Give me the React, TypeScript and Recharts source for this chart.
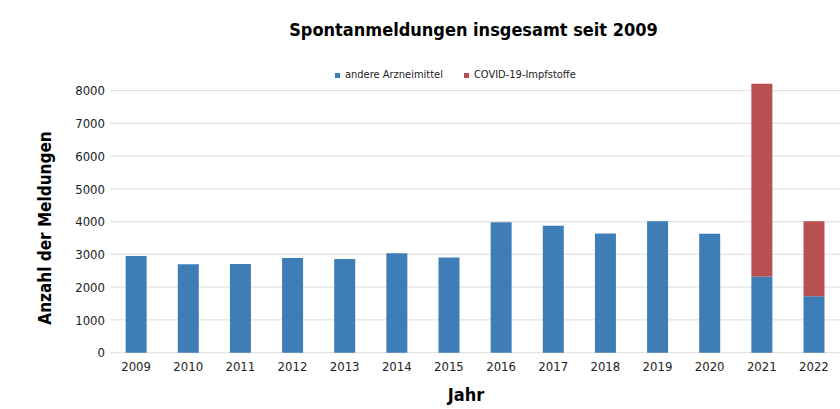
import { BarChart, Bar, XAxis, YAxis, CartesianGrid } from 'recharts';

const years = ['2009', '2010', '2011', '2012', '2013', '2014', '2015', '2016', '2017', '2018', '2019', '2020', '2021', '2022'];
const andereArzneimittel = [2950, 2700, 2710, 2890, 2860, 3040, 2910, 3980, 3880, 3640, 4010, 3630, 2330, 1720];
const covidImpfstoffe = [0, 0, 0, 0, 0, 0, 0, 0, 0, 0, 0, 0, 5880, 2290];
const yTicks = [0, 1000, 2000, 3000, 4000, 5000, 6000, 7000, 8000];
const Y_MAX = 8400;

const BLUE = '#3F7DB7';
const RED = '#B85052';
const FONT = "'Liberation Sans Narrow', 'DejaVu Sans Condensed', 'Noto Sans', sans-serif";

const chartData = years.map((y, i) => ({
  year: y,
  andere: andereArzneimittel[i],
  covid: covidImpfstoffe[i],
}));

function YLabel() {
  return (
    <text
      x={45}
      y={228}
      transform="rotate(-90 45 228)"
      textAnchor="middle"
      dominantBaseline="central"
      fontFamily={FONT}
      fontWeight="bold"
      fontSize={17}
      fill="#000"
    >
      Anzahl der Meldungen
    </text>
  );
}

// grid lines only at the labelled ticks, not at the top edge of the plot
const gridRows = ({ offset }: any) =>
  yTicks.map((t) => offset.top + offset.height * (1 - t / Y_MAX));

export default function App() {
  return (
    <div style={{ position: 'absolute', top: 0, left: 0, width: 840, height: 409, background: '#fff', fontFamily: FONT }}>
      <div
        style={{
          position: 'absolute',
          top: 19,
          left: 0,
          width: 947,
          textAlign: 'center',
          fontSize: 18,
          fontWeight: 'bold',
          color: '#000',
        }}
      >
        Spontanmeldungen insgesamt seit 2009
      </div>
      <div
        style={{
          position: 'absolute',
          top: 67,
          left: 335,
          display: 'flex',
          alignItems: 'center',
          fontSize: 11,
          lineHeight: '16px',
          color: '#222',
        }}
      >
        <span style={{ width: 5, height: 5, background: BLUE, marginRight: 5 }} />
        <span style={{ marginRight: 21 }}>andere Arzneimittel</span>
        <span style={{ width: 5, height: 5, background: RED, marginRight: 5 }} />
        <span>COVID-19-Impfstoffe</span>
      </div>
      <BarChart
        width={840}
        height={409}
        data={chartData}
        margin={{ top: 77.6, right: 0, bottom: 26.3, left: 0 }}
        barCategoryGap="30%"
      >
        <CartesianGrid vertical={false} stroke="#e3e3e3" strokeWidth={1.3} horizontalCoordinatesGenerator={gridRows} />
        <XAxis
          dataKey="year"
          axisLine={false}
          tickLine={false}
          tickSize={0}
          tickMargin={9}
          height={30}
          tick={{ fill: '#222', fontSize: 13, fontFamily: FONT }}
          label={{
            value: 'Jahr',
            content: () => (
              <text x={466} y={394} textAnchor="middle" dominantBaseline="central" fontFamily={FONT} fontWeight="bold" fontSize={18} fill="#000">
                Jahr
              </text>
            ),
          }}
        />
        <YAxis
          width={110}
          domain={[0, Y_MAX]}
          ticks={yTicks}
          axisLine={false}
          tickLine={false}
          tickSize={0}
          tickMargin={5}
          tick={{ fill: '#222', fontSize: 13, fontFamily: FONT }}
          label={{ value: 'Anzahl der Meldungen', content: () => <YLabel /> }}
        />
        <Bar dataKey="andere" stackId="a" fill={BLUE} isAnimationActive={false} />
        <Bar dataKey="covid" stackId="a" fill={RED} isAnimationActive={false} />
      </BarChart>
    </div>
  );
}
